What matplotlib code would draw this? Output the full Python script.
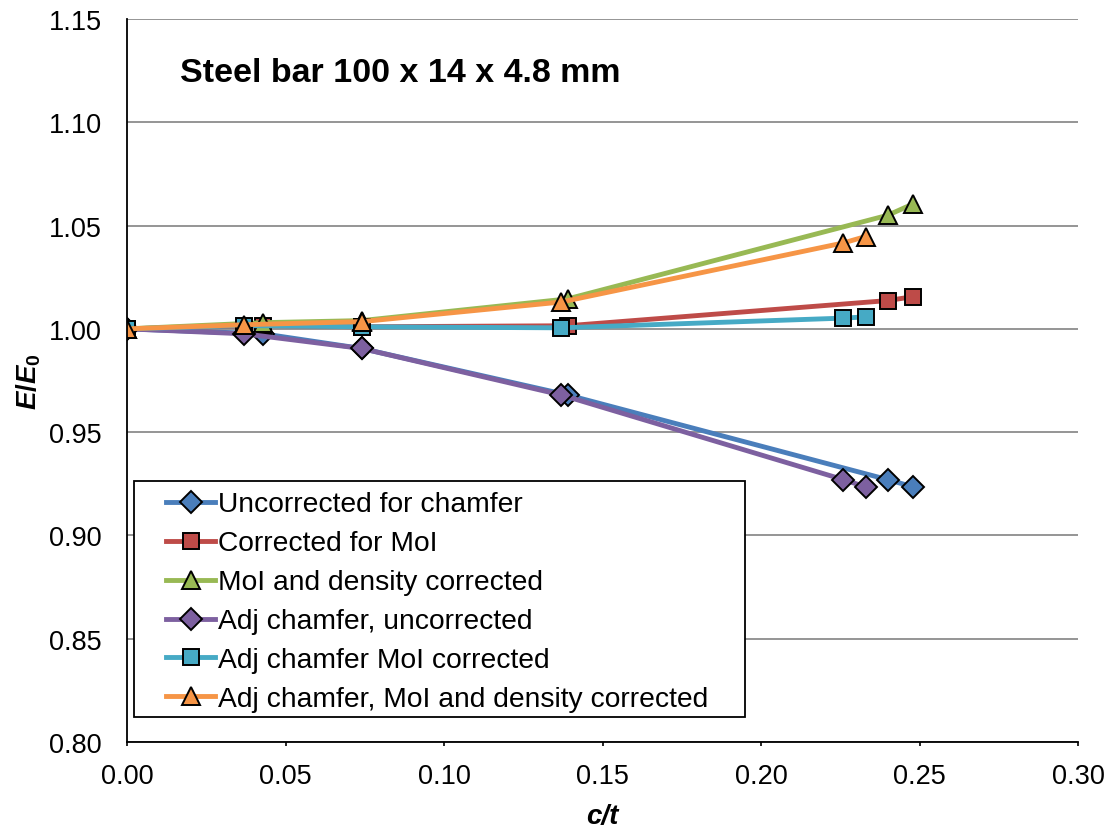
import matplotlib.pyplot as plt
from matplotlib.patches import Rectangle

plt.rcParams['font.family'] = ['Liberation Sans', 'DejaVu Sans']
plt.rcParams['mathtext.fontset'] = 'custom'
plt.rcParams['mathtext.it'] = 'Liberation Sans:italic:bold'
plt.rcParams['mathtext.rm'] = 'Liberation Sans:bold'
plt.rcParams['mathtext.bf'] = 'Liberation Sans:bold'

# c/t values
ct_orig = [0.0, 0.043, 0.074, 0.139, 0.240, 0.248]
ct_adj = [0.0, 0.037, 0.074, 0.137, 0.226, 0.233]

# E/E0 values
uncorrected = [1.000, 0.9976, 0.9905, 0.968, 0.927, 0.9235]
corrected_moi = [1.000, 1.0016, 1.001, 1.0015, 1.0137, 1.0156]
moi_density = [1.000, 1.003, 1.004, 1.0145, 1.055, 1.0605]
adj_uncorrected = [1.000, 0.9976, 0.9905, 0.968, 0.927, 0.9235]
adj_moi = [1.000, 1.0016, 1.001, 1.0005, 1.0052, 1.0058]
adj_moi_density = [1.000, 1.002, 1.0035, 1.013, 1.0416, 1.0447]

series = [
    (ct_orig, uncorrected, 'Uncorrected for chamfer', '#4A7EBB', 'D', 11),
    (ct_orig, corrected_moi, 'Corrected for MoI', '#BE4B48', 's', 11.5),
    (ct_orig, moi_density, 'MoI and density corrected', '#98B954', '^', 12.5),
    (ct_adj, adj_uncorrected, 'Adj chamfer, uncorrected', '#7D60A0', 'D', 11),
    (ct_adj, adj_moi, 'Adj chamfer MoI corrected', '#46AAC5', 's', 11.5),
    (ct_adj, adj_moi_density, 'Adj chamfer, MoI and density corrected', '#F69546', '^', 12.5),
]

fig = plt.figure(figsize=(11.13, 8.28), dpi=100)
ax = fig.add_axes([127 / 1113, 1 - 743 / 828, (1078 - 127) / 1113, (743 - 20) / 828])

for x, y, lab, col, mk, ms in series:
    ax.plot(x, y, color=col, lw=3.5, marker=mk, ms=ms, mfc=col, mec='black',
            mew=1.4, label=lab)

ax.set_xlim(0, 0.30)
ax.set_ylim(0.80, 1.15)
ax.set_xticks([0.0, 0.05, 0.10, 0.15, 0.20, 0.25, 0.30])
ax.set_yticks([0.80, 0.85, 0.90, 0.95, 1.00, 1.05, 1.10, 1.15])
ax.xaxis.set_major_formatter(plt.FormatStrFormatter('%.2f'))
ax.yaxis.set_major_formatter(plt.FormatStrFormatter('%.2f'))
ax.tick_params(axis='x', labelsize=19.5, direction='out', length=3, width=1.2, pad=12)
ax.tick_params(axis='y', labelsize=19.5, length=0, pad=18)
ax.grid(axis='y', color='#8C8C8C', lw=1.3)
ax.set_axisbelow(True)

for side in ['top', 'right']:
    ax.spines[side].set_visible(False)
for side in ['left', 'bottom']:
    ax.spines[side].set_linewidth(1.3)

ax.set_xlabel('c/t', fontsize=20, fontweight='bold', fontstyle='italic', labelpad=10)
ax.set_ylabel(r'$E/E_0$', fontsize=20, labelpad=4)
ax.text(0.0557, 0.914, 'Steel bar 100 x 14 x 4.8 mm', transform=ax.transAxes,
        fontsize=24.5, fontweight='bold', va='baseline')

# legend box drawn separately so the padding matches
box = Rectangle((0.0074, 0.0346), 0.6424, 0.3264, transform=ax.transAxes,
                facecolor='white', edgecolor='black', lw=1.3, zorder=5)
ax.add_patch(box)
leg = ax.legend(loc='upper left', bbox_to_anchor=(0.041, 0.3465), fontsize=20.3,
                frameon=False, handlelength=1.75, handletextpad=0.1,
                labelspacing=0.46, borderpad=0, borderaxespad=0)
leg.set_zorder(6)

fig.savefig('out.png', dpi=100)
